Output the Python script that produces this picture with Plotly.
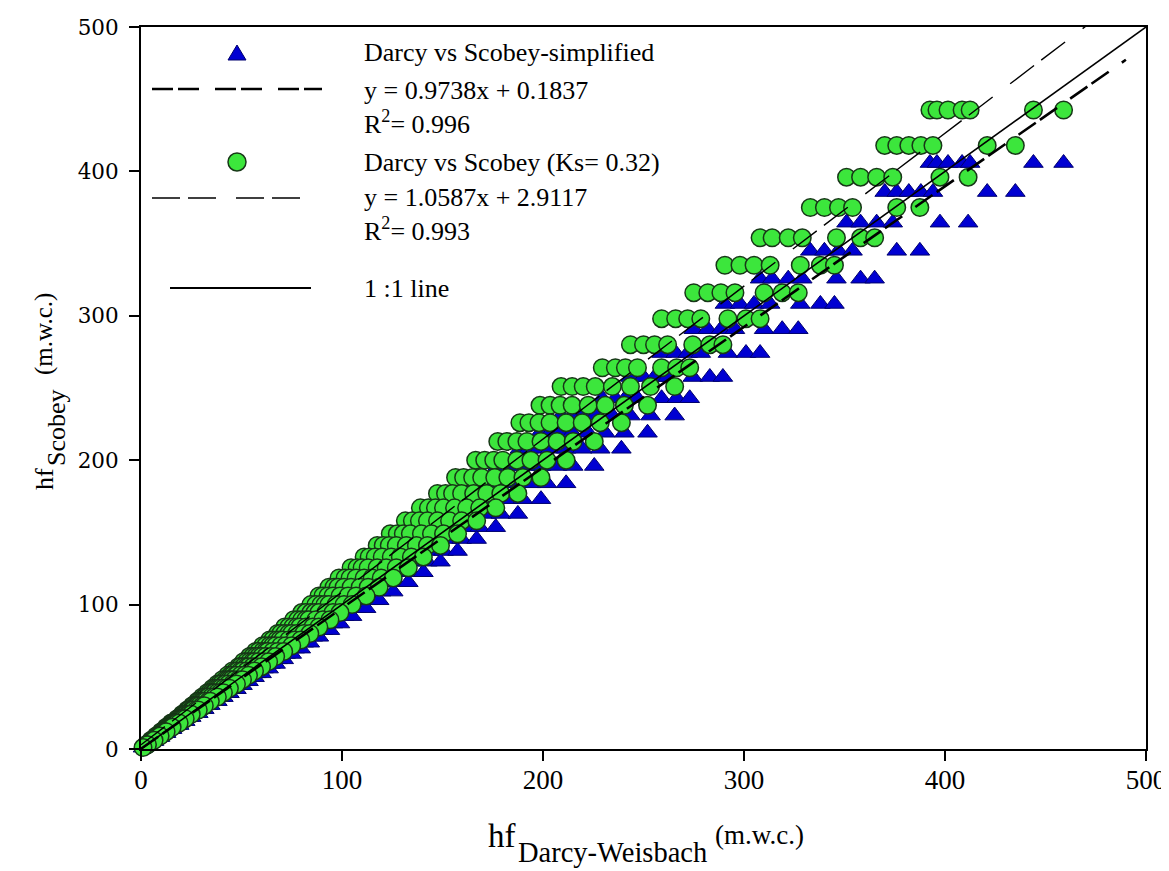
import plotly.graph_objects as go

# ---- data -----------------------------------------------------------------
# Each row: one Scobey head-loss level (m.w.c.) and the Darcy-Weisbach values
# that share that level.
scobey_ks_levels = [442.5, 418, 396, 375, 354, 335, 316, 298, 280, 264,
                    251, 238, 226, 213, 200, 188, 177, 167, 158, 149,
                    141, 133, 125.5, 118.5, 112, 106, 100, 94.5, 89.5, 84.5,
                    80, 75.5, 71.5, 67.5, 64, 60.5, 57, 54, 51, 48,
                    45, 42, 39, 36, 33, 30, 27, 24, 21, 18,
                    15, 12, 9, 6, 3, 1]

scobey_simpl_levels = [405.8, 385.7, 364.5, 345, 325.7, 308.2, 290.7, 274.2, 257.6, 242.9,
                       230.9, 219, 207.9, 196, 184, 173, 162.8, 153.6, 145.4, 137.1,
                       129.7, 122.4, 115.5, 109, 103, 97.5, 92, 86.9, 82.3, 77.7,
                       73.6, 69.5, 65.8, 62.1, 58.9, 55.7, 52.4, 49.7, 46.9, 44.2,
                       41.4, 38.6, 35.9, 33.1, 30.4, 27.6, 24.8, 22.1, 19.3, 16.6,
                       13.8, 11, 8.3, 5.5, 2.8, 0.9]

darcy_rows = [
    [392.5, 396, 401.5, 408.5, 412.5, 444, 459],
    [370, 376, 382, 388, 394, 421, 435],
    [351, 358, 366, 374, 397.5, 411.5],
    [333, 340, 347, 354, 376, 387.5],
    [308, 314, 322, 329, 346, 358, 365],
    [290.5, 298, 305, 313, 328, 338, 345],
    [275, 282, 288.5, 295.5, 310, 319, 327],
    [259, 266, 272, 278.5, 292, 301, 308],
    [243.5, 250, 255.5, 262, 274.5, 283, 289.5],
    [229.5, 236, 241, 247, 259, 266.5, 273],
    [209, 214.5, 220, 226, 234.5, 243.5, 253.5, 265.5],
    [198.5, 203.5, 208.5, 214.5, 222.5, 231, 240.5, 252],
    [188.5, 193, 198, 203.5, 211.5, 219.5, 228.5, 239],
    [177.5, 182, 187, 192, 199, 207, 215, 225.5],
    [166.5, 171, 175.5, 180, 187, 194, 202, 211.5],
    [156.5, 160.5, 165, 169.5, 176, 182.5, 190, 199],
    [147.5, 151.5, 155, 159.5, 165.5, 172, 179, 187.5],
    [139, 143, 146.5, 150.5, 156, 162, 168.5, 176.5],
    [131.5, 135, 138.5, 142.5, 147.5, 153.5, 159.5, 167],
    [124, 127.5, 130.5, 134, 139.5, 144.5, 150.5, 157.5],
    [117.5, 120.5, 123.5, 127, 132, 137, 142.5, 149],
    [111, 113.5, 116.5, 120, 124.5, 129, 134.5, 140.5],
    [104.5, 107.5, 110, 113, 117.5, 122, 127, 133],
    [98.5, 101.5, 104, 107, 111, 115, 119.5, 125.5],
    [93.5, 96, 98, 101, 104.5, 109, 113, 118.5],
    [88.5, 90.5, 93, 95.5, 99, 103, 107, 112],
    [84.5, 87, 89.5, 91.5, 93.5, 97, 101, 105],
    [80, 82, 84.5, 86.5, 88.5, 92, 95.5, 99],
    [76, 78, 80, 82, 83.5, 87, 90.5, 94],
    [71.5, 73.5, 75.5, 77.5, 79, 82, 85.5, 88.5],
    [68, 69.5, 71.5, 73.5, 75, 77.5, 81, 84],
    [64, 65.5, 67.5, 69, 70.5, 73.5, 76.5, 79.5],
    [60.5, 62, 64, 65.5, 67, 69.5, 72, 75],
    [57, 58.5, 60.5, 62, 63, 65.5, 68, 71],
    [54, 55.5, 57, 58.5, 60, 62, 64.5, 67],
    [51, 52.5, 54, 55.5, 56.5, 58.5, 61, 63.5],
    [48.5, 49.5, 51, 52.5, 53.5, 55.5, 57.5, 60],
    [45.5, 47, 48, 49.5, 50.5, 52.5, 54.5, 56.5],
    [43, 44.5, 45.5, 47, 47.5, 49.5, 51.5, 53.5],
    [40.5, 42, 43, 44, 45, 46.5, 48.5, 50.5],
    [38, 39, 40, 41.5, 42, 43.5, 45.5, 47.5],
    [35.5, 36.5, 37.5, 38.5, 39.5, 41, 42.5, 44],
    [33, 34, 35, 36, 36.5, 38, 39.5, 41],
    [30.5, 31.5, 32, 33, 33.5, 35, 36.5, 38],
    [28, 28.5, 29.5, 30.5, 31, 32, 33.5, 34.5],
    [25.5, 26, 27, 27.5, 28, 29, 30.5, 31.5],
    [23, 23.5, 24, 25, 25.5, 26, 27.5, 28.5],
    [20.5, 21, 21.5, 22, 22.5, 23.5, 24, 25],
    [18, 18.5, 19, 19.5, 20, 20.5, 21, 22],
    [15, 15.5, 16, 16.5, 17, 17.5, 18, 19],
    [12.5, 13, 13.5, 14, 14.5, 15, 15.5],
    [10, 10.5, 11, 11.5, 12, 12.5],
    [7.5, 8, 8.5, 9, 9.5],
    [5, 5.5, 6, 6.5],
    [2.5, 3, 3.2],
    [1],
]

# regression lines (slope, intercept) as printed in the legend
fit_simpl = (0.9738, 0.1837)
fit_ks = (1.0587, 2.9117)
fit_simpl_x = [0, 490]
fit_ks_x = [0, 500]
one_to_one = [0, 500]

tick_vals = [0, 100, 200, 300, 400, 500]

# ---- flatten rows -----------------------------------------------------------
x_all, y_simpl, y_ks = [], [], []
for xs_row, g, b in zip(darcy_rows, scobey_ks_levels, scobey_simpl_levels):
    for xv in xs_row:
        x_all.append(xv)
        y_ks.append(g)
        y_simpl.append(b)

SERIF = "Liberation Serif, Times New Roman, serif"
BLUE, BLUE_EDGE = "#0000D2", "#00006E"
GREEN, GREEN_EDGE = "#3CE63C", "#173717"

fig = go.Figure()
fig.add_trace(go.Scatter(
    x=x_all, y=y_simpl, mode="markers", cliponaxis=False, showlegend=False,
    marker=dict(symbol="triangle-up", size=17, color=BLUE,
                line=dict(color=BLUE_EDGE, width=1))))
fig.add_trace(go.Scatter(
    x=x_all, y=y_ks, mode="markers", cliponaxis=False, showlegend=False,
    marker=dict(symbol="circle", size=17.5, color=GREEN,
                line=dict(color=GREEN_EDGE, width=1.5))))

fig.add_trace(go.Scatter(
    x=fit_ks_x, y=[fit_ks[0] * v + fit_ks[1] for v in fit_ks_x], mode="lines",
    showlegend=False, line=dict(color="black", width=1.4, dash="30px,9px,30px,22px")))
fig.add_trace(go.Scatter(
    x=fit_simpl_x, y=[fit_simpl[0] * v + fit_simpl[1] for v in fit_simpl_x], mode="lines",
    showlegend=False, line=dict(color="black", width=2.6, dash="21px,5px,21px,16px")))
fig.add_trace(go.Scatter(
    x=one_to_one, y=one_to_one, mode="lines", showlegend=False,
    line=dict(color="black", width=1.6)))

axis_common = dict(range=[0, 500], tickvals=tick_vals, showgrid=False, zeroline=False,
                   showline=True, linecolor="black", linewidth=2, mirror=True,
                   ticks="outside", ticklen=10, tickwidth=1.5, tickcolor="black")
fig.update_xaxes(**axis_common, ticklabelstandoff=-4,
                 tickfont=dict(family=SERIF, size=27, color="black"))
fig.update_yaxes(**axis_common, ticklabelstandoff=6,
                 tickfont=dict(family="DejaVu Serif", size=21.5, color="black"))

# ---- page geometry (screen pixels of the plot area; page body has 8px margin)
L, R, T, B = 141, 1146, 27, 749
BODY = 8
W, H = 1169, 871

def px(xp):
    return (xp - L) / (R - L)

def py(yp):
    return (B - yp) / (B - T)

shapes = [
    dict(type="path", xref="paper", yref="paper", xsizemode="pixel", ysizemode="pixel",
         xanchor=px(237), yanchor=py(53), path="M -9,-7 L 9,-7 L 0,8 Z",
         fillcolor=BLUE, line=dict(color=BLUE_EDGE, width=1)),
    dict(type="line", xref="paper", yref="paper", x0=px(152), x1=px(322), y0=py(89), y1=py(89),
         line=dict(color="black", width=2.6, dash="21px,5px,21px,16px")),
    dict(type="circle", xref="paper", yref="paper", xsizemode="pixel", ysizemode="pixel",
         xanchor=px(237), yanchor=py(162), x0=-9, x1=9, y0=-9, y1=9,
         fillcolor=GREEN, line=dict(color=GREEN_EDGE, width=1.5)),
    dict(type="line", xref="paper", yref="paper", x0=px(152), x1=px(300), y0=py(198), y1=py(198),
         line=dict(color="black", width=1.4, dash="28px,8px,28px,20px")),
    dict(type="line", xref="paper", yref="paper", x0=px(170), x1=px(311), y0=py(288), y1=py(288),
         line=dict(color="black", width=2)),
]

legend_texts = [
    ("Darcy vs Scobey-simplified", 53),
    ("y = 0.9738x + 0.1837", 90),
    ("R<sup>2</sup>= 0.996", 123),
    ("Darcy vs Scobey (Ks= 0.32)", 162),
    ("y = 1.0587x + 2.9117", 198),
    ("R<sup>2</sup>= 0.993", 229),
    ("1 :1 line", 288),
]
annotations = []
for txt, yy in legend_texts:
    annotations.append(dict(text=txt, xref="paper", yref="paper", x=px(362), y=py(yy),
                            xanchor="left", yanchor="middle", showarrow=False,
                            font=dict(family=SERIF, size=26, color="black")))

# x-axis title: hf, subscript Darcy-Weisbach, then (m.w.c.)
x_title_parts = [("hf", 486, 836, 33), ("Darcy-Weisbach", 516, 852, 28.5), ("(m.w.c.)", 713, 835, 27)]
for txt, xl, yc, fs in x_title_parts:
    annotations.append(dict(text=txt, xref="paper", yref="paper", x=px(xl), y=py(yc),
                            xanchor="left", yanchor="middle", showarrow=False,
                            font=dict(family=SERIF, size=fs, color="black")))

# y-axis title (rotated): hf, subscript Scobey, then (m.w.c.)
y_title_parts = [("hf", 44, 479, 26), ("Scobey", 56, 428, 26), ("(m.w.c.)", 44, 334, 25)]
for txt, xc, yc, fs in y_title_parts:
    annotations.append(dict(text=txt, xref="paper", yref="paper", x=px(xc), y=py(yc),
                            xanchor="center", yanchor="middle", textangle=-90, showarrow=False,
                            font=dict(family=SERIF, size=fs, color="black")))

fig.update_layout(
    width=W, height=H,
    margin=dict(l=L - BODY, r=W + BODY - R, t=T - BODY, b=H + BODY - B, autoexpand=False),
    plot_bgcolor="white", paper_bgcolor="white",
    showlegend=False, shapes=shapes, annotations=annotations,
    font=dict(family=SERIF, color="black"),
)

fig.write_html("out.html")
